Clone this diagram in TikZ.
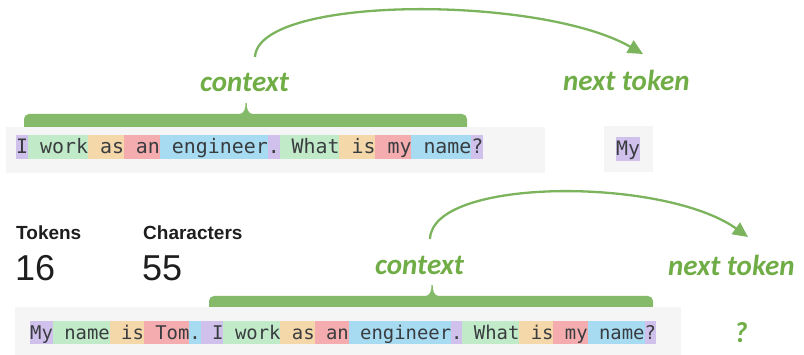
\documentclass[tikz,border=0pt]{standalone}
\usepackage{fontspec}
\setmainfont{Liberation Sans}
\setmonofont{DejaVu Sans Mono}
\newfontfamily\calfont{Carlito}
\usetikzlibrary{arrows.meta}
\definecolor{tkP}{HTML}{D0C0EC}
\definecolor{tkG}{HTML}{C1EBC8}
\definecolor{tkO}{HTML}{F5D8AA}
\definecolor{tkR}{HTML}{F4ACAF}
\definecolor{tkB}{HTML}{A6DBF2}
\definecolor{boxgray}{HTML}{F5F5F5}
\definecolor{monotext}{HTML}{3A3D40}
\definecolor{accent}{HTML}{70AD47}
\definecolor{brkgreen}{HTML}{84BA6A}
\definecolor{arrgreen}{HTML}{7BB45C}
\definecolor{statink}{HTML}{1E1E1E}
\tikzset{
  panel/.style={fill=boxgray, draw=none},
  brk/.style={fill=brkgreen, draw=none},
  monorow/.style={anchor=base west, inner sep=0pt, text=monotext},
  lbl/.style={anchor=base west, inner sep=0pt, text=accent,
    font=\calfont\bfseries\itshape\fontsize{29}{31}\selectfont},
  arr/.style={draw=arrgreen, line width=2.3pt, -{Triangle[length=15pt,width=14pt]}},
  stathead/.style={anchor=base west, inner sep=0pt, text=statink,
    font=\bfseries\fontsize{19}{21}\selectfont},
  statnum/.style={anchor=base west, inner sep=0pt, text=statink,
    font=\fontsize{36}{38}\selectfont},
}
\begin{document}
\begin{tikzpicture}[x=1pt,y=-1pt]
\useasboundingbox (0,0) rectangle (804,355);

% ---------- top example ----------
\fill[brk, rounded corners=5pt] (24,114) rectangle (467,132);
\fill[brk] (239,114.5) .. controls (245,113) and (245.4,108) .. (245.5,103)
  -- (246.7,103) .. controls (246.8,108) and (247.2,113) .. (253,114.5) -- cycle;
\fill[panel] (6,127) rectangle (545,173);
\foreach \s/\n/\c in {0/1/tkP,1/5/tkG,6/3/tkO,9/3/tkR,12/9/tkB,21/1/tkP,22/5/tkG,27/3/tkO,30/3/tkR,33/5/tkB,38/1/tkP}
  \fill[\c] ({16+\s*11.98},135) rectangle ({16+(\s+\n)*11.98},159);
\node[monorow, font=\ttfamily\frenchspacing\fontsize{19.9}{21}\selectfont] (row1) at (16,154)
  {I work as an engineer. What is my name?};

\fill[panel] (604,126) rectangle (653,172);
\fill[tkP] (616,137) rectangle (640,161);
\node[monorow, font=\ttfamily\fontsize{19.9}{21}\selectfont] (my) at (616,156) {My};

\node[lbl] (ctx1) at (200,92) {context};
\node[lbl] (nt1) at (563,91) {next token};
\coordinate (a1s) at (255,57);
\coordinate (a1e) at (643,54);
\draw[arr] (a1s) .. controls (258,-5) and (540,-5) .. (a1e);

% ---------- stats ----------
\node[stathead] (tokh) at (16,240) {Tokens};
\node[statnum] (tokn) at (15,281) {16};
\node[stathead] (charh) at (143,240) {Characters};
\node[statnum] (charn) at (142,281) {55};

% ---------- bottom example ----------
\fill[brk, rounded corners=5pt] (209,296) rectangle (653,314);
\fill[brk] (425,296.5) .. controls (431,295) and (431.4,290) .. (431.5,285)
  -- (432.7,285) .. controls (432.8,290) and (433.2,295) .. (439,296.5) -- cycle;
\fill[panel] (15,307) rectangle (681,355);
\foreach \s/\n/\c in {0/2/tkP,2/5/tkG,7/3/tkO,10/4/tkR,14/1/tkB,15/2/tkP,17/5/tkG,22/3/tkO,25/3/tkR,28/9/tkB,37/1/tkP,38/5/tkG,43/3/tkO,46/3/tkR,49/5/tkB,54/1/tkP}
  \fill[\c] ({30+\s*11.38},321) rectangle ({30+(\s+\n)*11.38},344);
\node[monorow, font=\ttfamily\frenchspacing\fontsize{18.9}{20}\selectfont] (row2) at (30,340)
  {My name is Tom. I work as an engineer. What is my name?};

\node[lbl] (ctx2) at (375,275) {context};
\node[lbl] (nt2) at (668,276) {next token};
\node[lbl] (qm) at (734,343) {?};
\coordinate (a2s) at (430,239);
\coordinate (a2e) at (748,237);
\draw[arr] (a2s) .. controls (432,177) and (664,177) .. (a2e);
\end{tikzpicture}
\end{document}
